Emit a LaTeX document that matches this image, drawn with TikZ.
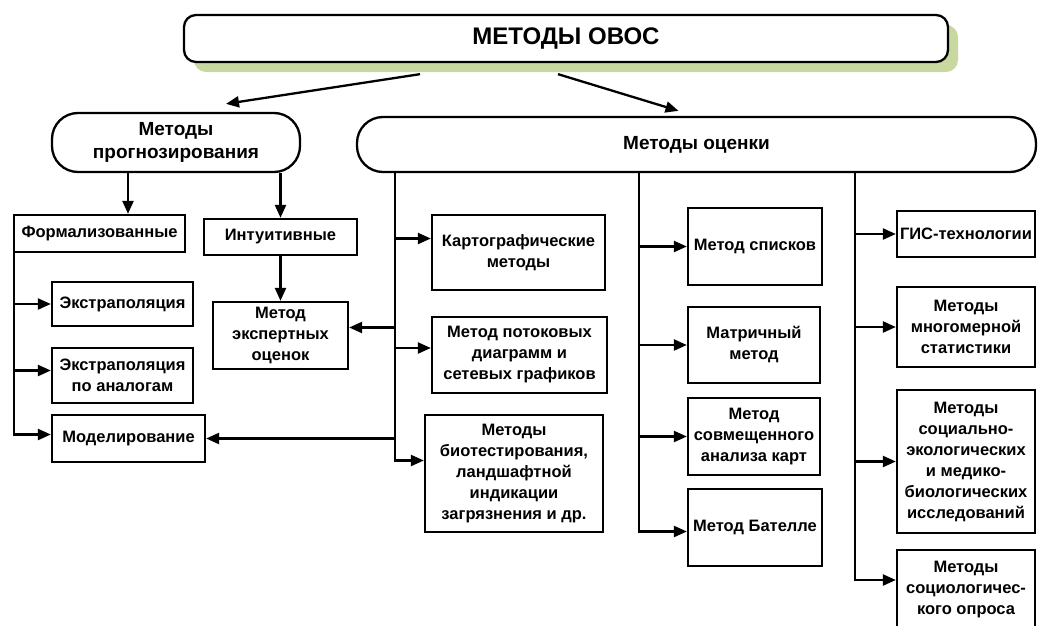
\documentclass[tikz,border=0pt]{standalone}
\usepackage{fontspec}
\setmainfont{Liberation Sans}
\usetikzlibrary{arrows.meta,shadows}
\definecolor{shadowgreen}{RGB}{200,216,160}

\begin{document}
\begin{tikzpicture}[x=1pt,y=-1pt,
    box/.style={draw,line width=2.3pt,fill=white,align=center,inner sep=2pt,
      font=\fontsize{16.5}{21}\selectfont\bfseries},
    pill/.style={box,rounded corners=26pt,font=\fontsize{19}{23}\selectfont\bfseries},
    arr/.style={line width=2.3pt,-{Triangle[length=13pt,width=11pt]}}]
    \useasboundingbox (0,0) rectangle (1038,626);
    % top
    \node[box,rounded corners=12pt,minimum width=764pt,minimum height=47pt,
      font=\fontsize{24}{28}\selectfont\bfseries,
      drop shadow={fill=shadowgreen,opacity=1,shadow xshift=10pt,shadow yshift=-10pt}]
      (top) at (566,38.5) {МЕТОДЫ ОВОС};
    \node[pill,minimum width=248pt,minimum height=59pt] (prog) at (176,142.5) {Методы\\прогнозирования};
    \node[pill,minimum width=679pt,minimum height=55pt] (ocen) at (696.5,144.5) {Методы оценки};
    \draw[arr] ([xshift=-146pt,yshift=-11pt]top.south) -- ([xshift=50pt,yshift=8pt]prog.north);
    \draw[arr] ([xshift=-8pt,yshift=-11pt]top.south) -- ([xshift=-18pt,yshift=5pt]ocen.north);
    % forecasting
    \node[box,minimum width=171pt,minimum height=37pt] (form) at (99.5,233.5) {Формализованные};
    \node[box,minimum width=153pt,minimum height=36pt] (intu) at (280.5,237) {Интуитивные};
    \node[box,minimum width=141pt,minimum height=44pt] (extr) at (122.5,304) {Экстраполяция};
    \node[box,minimum width=141pt,minimum height=55pt] (extran) at (122.5,375.5) {Экстраполяция\\по аналогам};
    \node[box,minimum width=153pt,minimum height=47pt] (model) at (128.5,438.5) {Моделирование};
    \node[box,minimum width=135pt,minimum height=67pt] (expert) at (280.5,335.5) {Метод\\экспертных\\оценок};
    \coordinate (a1) at (128,0);
    \coordinate (fx) at ([xshift=1pt]form.south west);
    \coordinate (xin) at ([yshift=5pt]extran.west);
    \coordinate (ein) at ([yshift=8pt]expert.east);
    \draw[arr] (prog.south -| a1) -- (form.north -| a1);
    \draw[arr] (prog.south -| intu) -- (intu.north);
    \draw[arr] (intu) -- (expert);
    \draw[arr] (fx) |- ([yshift=4pt]model.west);
    \draw[arr] (fx |- extr) -- (extr);
    \draw[arr] (fx |- xin) -- (xin);
    % assessment, column 1
    \node[box,minimum width=173pt,minimum height=75pt] (karto) at (518.5,252.5) {Картографические\\методы};
    \node[box,minimum width=175pt,minimum height=76pt] (potok) at (519.5,355) {Метод потоковых\\диаграмм и\\сетевых графиков};
    \node[box,minimum width=178pt,minimum height=117pt] (bio) at (514,473.5) {Методы\\биотестирования,\\ландшафтной\\индикации\\загрязнения и др.};
    \coordinate (c1) at (395,0);
    \coordinate (kin) at ([yshift=14pt]karto.west);
    \coordinate (pin) at ([yshift=7pt]potok.west);
    \coordinate (bin) at ([yshift=13pt]bio.west);
    \draw[arr] (ocen.south -| c1) |- (bin);
    \draw[arr] (c1 |- kin) -- (kin);
    \draw[arr] (c1 |- pin) -- (pin);
    \draw[arr] (c1 |- ein) -- (ein);
    \draw[arr] (c1 |- model.east) -- (model.east);
    % column 2
    \node[box,minimum width=134pt,minimum height=77pt] (spis) at (755,246.5) {Метод списков};
    \node[box,minimum width=132pt,minimum height=76pt] (matr) at (754,345) {Матричный\\метод};
    \node[box,minimum width=132pt,minimum height=77pt] (sovm) at (754,436.5) {Метод\\совмещенного\\анализа карт};
    \node[box,minimum width=134pt,minimum height=77pt] (batl) at (755,527.5) {Метод Бателле};
    \coordinate (c2) at (639,0);
    \draw[arr] (ocen.south -| c2) |- ([yshift=-4pt]batl.west);
    \foreach \n in {spis,matr,sovm}
      \draw[arr] (c2 |- \n) -- (\n);
    % column 3
    \node[box,minimum width=138pt,minimum height=46pt] (gis) at (966,234) {ГИС-технологии};
    \node[box,minimum width=138pt,minimum height=80pt] (mnog) at (966,327) {Методы\\многомерной\\статистики};
    \node[box,minimum width=138pt,minimum height=143pt] (soc) at (966,461.5) {Методы\\социально-\\экологических\\и медико-\\биологических\\исследований};
    \node[box,minimum width=138pt,minimum height=80pt] (socio) at (966,590) {Методы\\социологичес-\\кого опроса};
    \coordinate (c3) at (855,0);
    \coordinate (sin) at ([yshift=10pt]socio.west);
    \draw[arr] (ocen.south -| c3) |- (sin);
    \foreach \n in {gis,mnog,soc}
      \draw[arr] (c3 |- \n) -- (\n);
\end{tikzpicture}
\end{document}
